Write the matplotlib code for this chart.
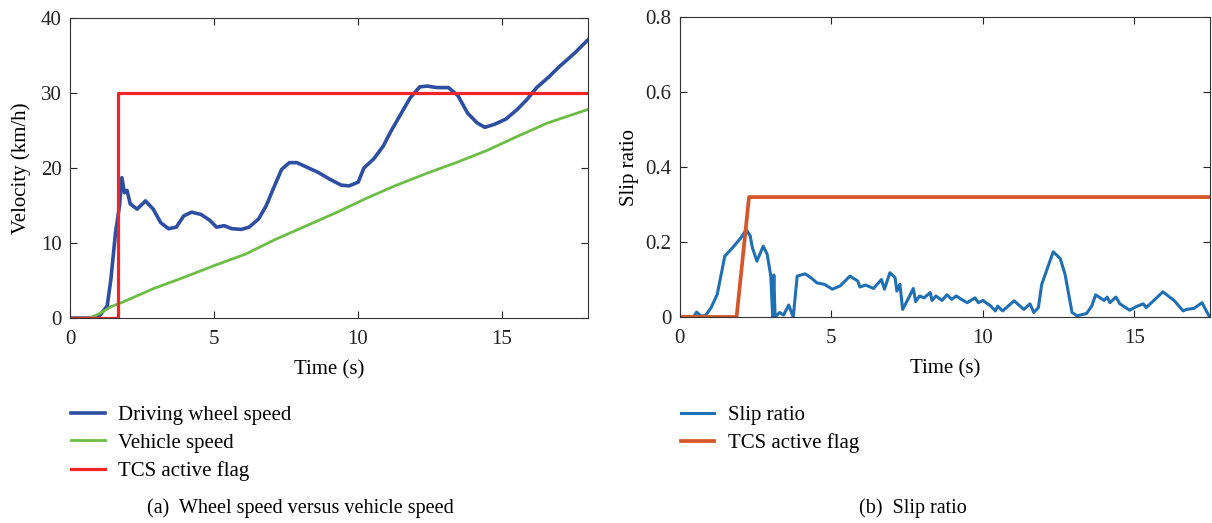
import matplotlib.pyplot as plt
import numpy as np

plt.rcParams['font.family'] = ['Liberation Serif', 'DejaVu Serif']
plt.rcParams['mathtext.fontset'] = 'stix'

# (a) wheel speed vs vehicle speed
t_wheel = [0, 0.96, 1.29, 1.42, 1.58, 1.72, 1.8, 1.89, 1.98, 2.09, 2.33, 2.62, 2.89, 3.15,
           3.42, 3.69, 3.95, 4.22, 4.55, 4.86, 5.09, 5.35, 5.62, 5.95, 6.22, 6.55, 6.82,
           7.08, 7.35, 7.62, 7.88, 8.22, 8.62, 9.02, 9.42, 9.69, 10.01, 10.21, 10.55,
           10.88, 11.15, 11.48, 11.81, 12.15, 12.41, 12.75, 13.15, 13.48, 13.81, 14.14,
           14.41, 14.74, 15.14, 15.54, 15.87, 16.21, 16.6, 17.0, 17.53, 18.0]
v_wheel = [0, 0, 1.6, 5.2, 11.4, 15.0, 18.7, 16.7, 17.0, 15.2, 14.5, 15.6, 14.5, 12.7,
           11.9, 12.1, 13.6, 14.1, 13.8, 13.0, 12.1, 12.3, 11.9, 11.8, 12.1, 13.2, 15.0,
           17.4, 19.8, 20.7, 20.7, 20.1, 19.4, 18.5, 17.7, 17.6, 18.1, 20.0, 21.2,
           22.9, 24.9, 27.1, 29.3, 30.8, 30.9, 30.7, 30.7, 29.6, 27.3, 26.0,
           25.4, 25.8, 26.5, 27.8, 29.1, 30.7, 32.0, 33.5, 35.3, 37.1]

t_vehicle = [0, 0.69, 1.03, 1.42, 1.82, 2.89, 3.95, 5.02, 6.09, 7.15, 8.22, 9.28, 10.21,
             11.28, 12.34, 13.41, 14.47, 15.54, 16.6, 18.0]
v_vehicle = [0, 0, 0.6, 1.5, 2.1, 3.9, 5.4, 7.0, 8.5, 10.5, 12.3, 14.1, 15.8,
             17.6, 19.2, 20.7, 22.3, 24.2, 26.0, 27.8]

t_flag_a = [0, 1.65, 1.65, 18.0]
v_flag_a = [0, 0, 30, 30]

# (b) slip ratio
t_slip = [0, 0.45, 0.55, 0.68, 0.84, 1.03, 1.23, 1.48, 1.74, 2.0, 2.19, 2.32, 2.39, 2.54,
          2.75, 2.88, 3.0, 3.06, 3.1, 3.14, 3.29, 3.42, 3.59, 3.74, 3.87, 4.13, 4.32,
          4.52, 4.77, 5.03, 5.29, 5.61, 5.87, 5.94, 6.13, 6.39, 6.65, 6.75, 6.93, 7.1,
          7.16, 7.26, 7.35, 7.55, 7.7, 7.78, 7.91, 8.06, 8.26, 8.32, 8.45, 8.65, 8.81,
          8.97, 9.12, 9.29, 9.48, 9.74, 9.85, 10.0, 10.26, 10.41, 10.49, 10.65, 11.03,
          11.35, 11.55, 11.68, 11.83, 11.94, 12.32, 12.55, 12.71, 12.94, 13.1, 13.42,
          13.59, 13.72, 14.0, 14.1, 14.19, 14.39, 14.52, 14.84, 15.1, 15.29, 15.39,
          15.94, 16.32, 16.61, 16.71, 16.97, 17.23, 17.48]
slip = [0, 0, 0.013, 0.003, 0.003, 0.025, 0.06, 0.162, 0.185, 0.21, 0.233, 0.216, 0.185,
        0.149, 0.189, 0.167, 0.109, 0, 0.112, 0, 0.012, 0.005, 0.032, 0, 0.109, 0.115,
        0.105, 0.091, 0.087, 0.074, 0.083, 0.109, 0.096, 0.08, 0.085, 0.076, 0.1, 0.074,
        0.118, 0.105, 0.069, 0.087, 0.02, 0.051, 0.076, 0.041, 0.056, 0.051, 0.065,
        0.044, 0.056, 0.044, 0.059, 0.047, 0.056, 0.047, 0.038, 0.051, 0.038, 0.044,
        0.029, 0.016, 0.029, 0.016, 0.043, 0.02, 0.035, 0.012, 0.025, 0.087, 0.174,
        0.156, 0.114, 0.012, 0.003, 0.009, 0.029, 0.059, 0.044, 0.053, 0.038, 0.053,
        0.035, 0.018, 0.029, 0.035, 0.025, 0.067, 0.043, 0.016, 0.02, 0.023, 0.038, 0]

t_flag_b = [0, 1.87, 2.28, 17.5]
flag_b = [0, 0, 0.32, 0.32]

fs = 15
fig = plt.figure(figsize=(12.12, 5.23), dpi=100)
ax1 = fig.add_axes([0.0578, 0.392, 0.4275, 0.574])
ax2 = fig.add_axes([0.561, 0.394, 0.4375, 0.573])

ax1.plot(t_wheel, v_wheel, color='#2d4ea2', lw=2.6, label='Driving wheel speed')
ax1.plot(t_vehicle, v_vehicle, color='#6cbd45', lw=2.0, label='Vehicle speed')
ax1.plot(t_flag_a, v_flag_a, color='#ee2427', lw=2.3, label='TCS active flag')
ax1.set_xlim(0, 18)
ax1.set_ylim(0, 40)
ax1.set_xticks([0, 5, 10, 15])
ax1.set_yticks([0, 10, 20, 30, 40])
ax1.set_xlabel('Time (s)', fontsize=fs, labelpad=8)
ax1.set_ylabel('Velocity (km/h)', fontsize=fs, labelpad=7)

ax2.plot(t_slip, slip, color='#1f6fb4', lw=2.2, label='Slip ratio')
ax2.plot(t_flag_b, flag_b, color='#d5562a', lw=2.7, label='TCS active flag')
ax2.set_xlim(0, 17.5)
ax2.set_ylim(0, 0.8)
ax2.set_xticks([0, 5, 10, 15])
ax2.set_yticks([0, 0.2, 0.4, 0.6, 0.8])
ax2.set_yticklabels(['0', '0.2', '0.4', '0.6', '0.8'])
ax2.set_xlabel('Time (s)', fontsize=fs, labelpad=8)
ax2.set_ylabel('Slip ratio', fontsize=fs, labelpad=5)

for ax in (ax1, ax2):
    ax.tick_params(direction='in', top=True, right=True, length=5, width=0.8,
                   labelsize=fs, colors='#222222')
    ax.tick_params(axis='x', pad=9)
    ax.tick_params(axis='y', pad=6)
    for s in ax.spines.values():
        s.set_linewidth(0.8)
        s.set_color('#333333')

ax1.legend(loc='upper left', bbox_to_anchor=(0.052, 0.241), bbox_transform=fig.transFigure,
           frameon=False, fontsize=fs, handlelength=1.6, handletextpad=0.65,
           labelspacing=0.4, borderaxespad=0)
ax2.legend(loc='upper left', bbox_to_anchor=(0.555, 0.241), bbox_transform=fig.transFigure,
           frameon=False, fontsize=fs, handlelength=1.6, handletextpad=0.65,
           labelspacing=0.4, borderaxespad=0)

fig.text(0.2475, 0.02, '(a)  Wheel speed versus vehicle speed', ha='center', fontsize=14.5)
fig.text(0.7535, 0.02, '(b)  Slip ratio', ha='center', fontsize=14.5)

fig.savefig('out.png', dpi=100)
